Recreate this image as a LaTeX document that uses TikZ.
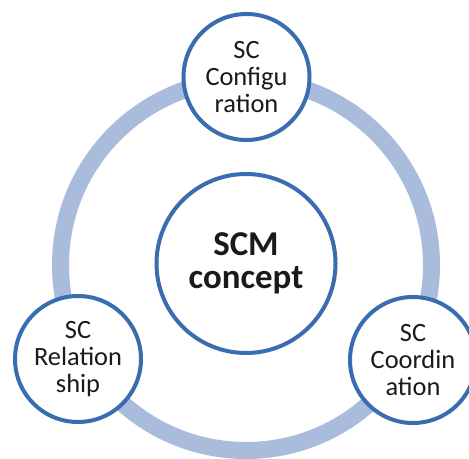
\documentclass[tikz,border=0pt]{standalone}
\usepackage{fontspec}
\setmainfont{Carlito}
\definecolor{ringblue}{HTML}{A9BCDB}
\definecolor{edgeblue}{HTML}{3A6DB0}
\definecolor{txt}{HTML}{1A1A1A}
\begin{document}
\begin{tikzpicture}[x=1bp,y=-1bp,
  satellite/.style={circle,draw=edgeblue,line width=4bp,fill=white,minimum size=126bp,inner sep=0pt,align=center,text=txt,font=\fontsize{26.5}{27.5}\selectfont},
  hub/.style={circle,draw=edgeblue,line width=4bp,fill=white,minimum size=179bp,inner sep=0pt,align=center,text=txt,font=\fontsize{35}{33}\selectfont\bfseries},
  ring/.style={draw=ringblue,line width=17bp}]
\useasboundingbox (0,0) rectangle (469,459);
\clip (0,0) rectangle (469,459);
\fill[white] (0,0) rectangle (469,459);
\coordinate (rc) at (246,265);
\draw[ring] (rc) circle[radius=185.5];
\node[hub] (scm) at (246,263.5) {SCM\\concept};
\node[satellite] (conf) at (246.5,77) {SC\\Configu\\ration};
\node[satellite] (rel) at (78,359) {SC\\Relation\\ship};
\node[satellite] (coord) at (413,360) {SC\\Coordin\\ation};
\end{tikzpicture}
\end{document}
